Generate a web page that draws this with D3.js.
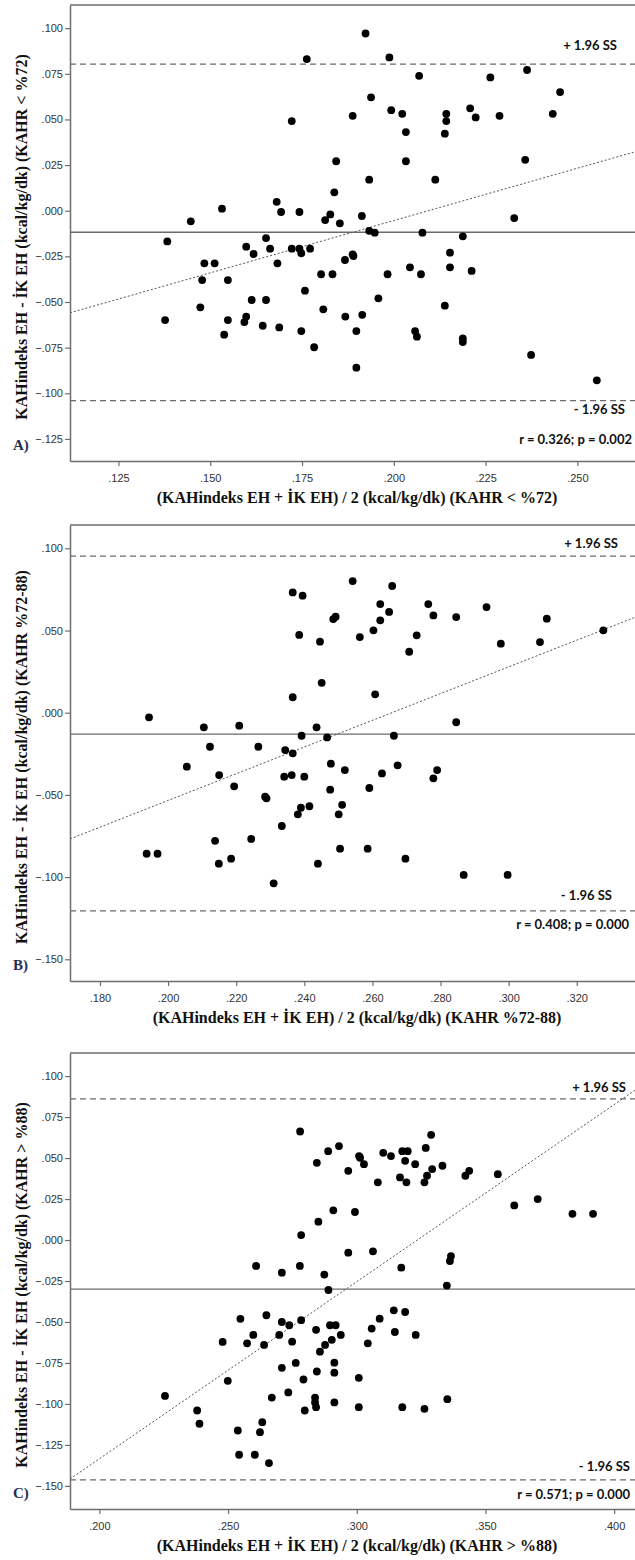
<!DOCTYPE html>
<html>
<head>
<meta charset="utf-8">
<script src="https://cdn.jsdelivr.net/npm/d3@7/dist/d3.min.js"></script>
<style>
  body { margin: 0; background: #fff; }
  .tick text { font-family: "Liberation Sans", Arial, sans-serif; font-size: 11px; fill: #333; }
  .axTitle { font-family: "Liberation Serif", "Times New Roman", serif; font-weight: bold; font-size: 16px; fill: #111; }
  .note { font-family: Lato, "Open Sans", sans-serif; font-weight: bold; font-size: 13px; fill: #111; }
  .panelLab { font-family: "Liberation Serif", serif; font-weight: bold; font-size: 15px; fill: #1f2f55; }
</style>
</head>
<body>
<div id="chart"></div>
<script>
// Panel A (KAHR < %72)
var xA = [0.1763,0.1722,0.1532,0.1447,0.1681,0.1693,0.1743,0.1383,0.1652,0.1598,0.1618,0.1663,0.1722,0.1743,0.1748,0.1772,
  0.1923,0.1988,0.2069,0.2263,0.2363,0.2453,0.1938,0.1888,0.1993,0.2023,0.2143,0.2143,0.2208,0.2223,0.2288,0.2433,
  0.2033,0.2139,0.1843,0.2033,0.2358,0.1933,0.2113,0.1838,0.1813,0.1827,0.1853,0.1913,0.1933,0.1948,0.2078,0.2188,
  0.2328,0.1888,0.1890,0.1867,0.2153,0.1484,0.1512,0.1478,0.1548,0.1473,0.1377,0.1548,0.1538,0.1598,0.1593,0.1613,
  0.1652,0.1643,0.1688,0.1683,0.1748,0.1758,0.1783,0.1802,0.1833,0.1983,0.2044,0.2074,0.2153,0.2212,0.1958,0.1808,
  0.1868,0.1914,0.1898,0.2058,0.2063,0.2139,0.2188,0.2188,0.1898,0.2374,0.2553];
var yA = [0.0831,0.0491,0.0011,-0.0058,0.0049,-0.0007,-0.0007,-0.0168,-0.0150,-0.0197,-0.0237,-0.0208,-0.0208,-0.0208,-0.0233,-0.0208,
  0.0971,0.0840,0.0739,0.0730,0.0771,0.0650,0.0621,0.0520,0.0551,0.0531,0.0531,0.0491,0.0561,0.0511,0.0520,0.0531,
  0.0431,0.0422,0.0271,0.0271,0.0279,0.0170,0.0170,0.0101,-0.0051,-0.0020,-0.0069,-0.0029,-0.0110,-0.0120,-0.0120,-0.0140,
  -0.0040,-0.0239,-0.0248,-0.0270,-0.0230,-0.0288,-0.0288,-0.0380,-0.0380,-0.0529,-0.0599,-0.0599,-0.0679,-0.0580,-0.0610,-0.0489,
  -0.0489,-0.0630,-0.0639,-0.0288,-0.0659,-0.0438,-0.0748,-0.0348,-0.0348,-0.0348,-0.0310,-0.0348,-0.0310,-0.0330,-0.0480,-0.0540,
  -0.0580,-0.0570,-0.0659,-0.0659,-0.0690,-0.0520,-0.0699,-0.0719,-0.0860,-0.0790,-0.0929];

// Panel B (KAHR %72-88)
var xB = [0.2366,0.2395,0.2385,0.2446,0.2366,0.2451,0.1944,0.2105,0.2209,0.2436,0.2123,0.2265,0.2344,0.2366,0.2392,0.2055,
  0.2150,0.2341,0.2363,0.2400,0.2542,0.2658,0.2623,0.2764,0.2649,0.2779,0.2485,0.2492,0.2623,0.2846,0.2935,0.3112,
  0.2603,0.2563,0.2730,0.2708,0.2977,0.3092,0.3278,0.2608,0.2846,0.2467,0.2663,0.2478,0.2519,0.2628,0.2674,0.2790,
  0.2779,0.2194,0.2476,0.2591,0.2285,0.2289,0.2390,0.2415,0.2381,0.2511,0.2501,0.2334,0.2138,0.2244,0.1937,0.1969,
  0.2149,0.2185,0.2310,0.2440,0.2505,0.2586,0.2697,0.2868,0.2997];
var yB = [0.0732,0.0712,0.0473,0.0432,0.0094,0.0182,-0.0028,-0.0089,-0.0079,-0.0089,-0.0207,-0.0207,-0.0227,-0.0247,-0.0140,-0.0328,
  -0.0379,-0.0389,-0.0379,-0.0389,0.0801,0.0771,0.0661,0.0661,0.0613,0.0592,0.0570,0.0584,0.0562,0.0582,0.0643,0.0572,
  0.0501,0.0460,0.0471,0.0371,0.0420,0.0430,0.0501,0.0112,-0.0058,-0.0150,-0.0140,-0.0310,-0.0349,-0.0369,-0.0320,-0.0349,
  -0.0399,-0.0448,-0.0468,-0.0458,-0.0511,-0.0521,-0.0578,-0.0569,-0.0618,-0.0560,-0.0618,-0.0689,-0.0779,-0.0768,-0.0858,-0.0858,
  -0.0918,-0.0888,-0.1038,-0.0918,-0.0827,-0.0827,-0.0888,-0.0987,-0.0987];

// Panel C (KAHR > %88)
var xC = [0.2780,0.2845,0.2784,0.2851,0.2609,0.2709,0.2779,0.3289,0.2931,0.2889,0.3268,0.3009,0.3013,0.3028,0.3103,0.3133,
  0.3177,0.3198,0.3188,0.3227,0.3293,0.3333,0.2967,0.3082,0.3168,0.3193,0.3263,0.3273,0.3422,0.3437,0.3548,0.3612,
  0.3703,0.3838,0.3918,0.2909,0.2993,0.2967,0.3063,0.2874,0.3173,0.3366,0.3362,0.3350,0.2890,0.2255,0.2380,0.2389,
  0.2479,0.2499,0.2548,0.2538,0.2543,0.2574,0.2598,0.2624,0.2633,0.2604,0.2649,0.2640,0.2670,0.2659,0.2709,0.2738,
  0.2699,0.2749,0.2784,0.2709,0.2763,0.2734,0.2793,0.2798,0.2842,0.2845,0.2838,0.2838,0.2842,0.2896,0.2918,0.2938,
  0.2903,0.2877,0.2857,0.2913,0.2913,0.3008,0.3043,0.3058,0.3089,0.3144,0.3188,0.3148,0.3229,0.2913,0.3008,0.3177,
  0.3263,0.3352];
var yC = [0.0662,0.0471,0.0030,0.0112,-0.0158,-0.0199,-0.0158,0.0642,0.0573,0.0542,0.0562,0.0512,0.0502,0.0463,0.0532,0.0512,
  0.0542,0.0542,0.0483,0.0463,0.0433,0.0453,0.0422,0.0352,0.0382,0.0352,0.0352,0.0392,0.0392,0.0422,0.0402,0.0211,
  0.0250,0.0160,0.0160,0.0181,0.0171,-0.0077,-0.0069,-0.0211,-0.0169,-0.0098,-0.0128,-0.0278,-0.0305,-0.0951,-0.1040,-0.1121,
  -0.0622,-0.0859,-0.0481,-0.1162,-0.1310,-0.0630,-0.0579,-0.1172,-0.1111,-0.1310,-0.0459,-0.0640,-0.0961,-0.1361,-0.0500,-0.0520,
  -0.0579,-0.0620,-0.0489,-0.0780,-0.0750,-0.0930,-0.0851,-0.1040,-0.0548,-0.0802,-0.0961,-0.0991,-0.1020,-0.0520,-0.0520,-0.0579,
  -0.0609,-0.0640,-0.0681,-0.0748,-0.0809,-0.0841,-0.0630,-0.0540,-0.0480,-0.0429,-0.0439,-0.0561,-0.0579,-0.0991,-0.1020,-0.1020,
  -0.1030,-0.0971];

// tick values per panel
var xTicksA = [0.125, 0.150, 0.175, 0.200, 0.225, 0.250];
var yTicksA = [-0.125, -0.100, -0.075, -0.050, -0.025, 0.000, 0.025, 0.050, 0.075, 0.100];
var xTicksB = [0.180, 0.200, 0.220, 0.240, 0.260, 0.280, 0.300, 0.320];
var yTicksB = [-0.150, -0.100, -0.050, 0.000, 0.050, 0.100];
var xTicksC = [0.200, 0.250, 0.300, 0.350, 0.400];
var yTicksC = [-0.150, -0.125, -0.100, -0.075, -0.050, -0.025, 0.000, 0.025, 0.050, 0.075, 0.100];

// mean difference, +1.96 SD, -1.96 SD
var limitsA = [-0.0118, 0.0803, -0.1040];
var limitsB = [-0.0130, 0.0953, -0.1206];
var limitsC = [-0.0299, 0.0861, -0.1463];

// regression line: [intercept, slope]
var regA = [-0.1200, 0.5731];
var regB = [-0.2159, 0.8126];
var regC = [-0.3496, 1.0806];

var rTexts = ["r = 0.326; p = 0.002", "r = 0.408; p = 0.000", "r = 0.571; p = 0.000"];
var groups = ["KAHR < %72", "KAHR %72-88", "KAHR > %88"];
var panelLabels = ["A)", "B)", "C)"];

var svg = d3.select("#chart").append("svg")
  .attr("width", 635)
  .attr("height", 1560);

var fmt = function(d) {
  var s = d3.format(".3f")(d);
  return s.replace("0.", ".");
};

// note placement per panel: [x, y] for +1.96, -1.96, r text
var notePos = [
  [[617, 50], [625, 414], [632, 444]],
  [[618, 548], [612, 900], [629, 929]],
  [[626, 1092], [630, 1471], [630, 1499]]
];

function drawPanel(i, xs, ys, xDom, yDom, top, xTicks, yTicks, limits, reg) {
  var left = 70, right = 635, height = 456;
  var bottom = top + height;

  var x = d3.scaleLinear().domain(xDom).range([left, right]);
  var y = d3.scaleLinear().domain(yDom).range([bottom, top]);

  var g = svg.append("g");

  g.append("defs").append("clipPath").attr("id", "clip" + i)
    .append("rect").attr("x", left).attr("y", top).attr("width", right - left).attr("height", height);

  // frame top
  g.append("line")
    .attr("x1", left).attr("x2", right).attr("y1", top).attr("y2", top)
    .attr("stroke", "#6e6e6e").attr("stroke-width", 1.5);

  var plot = g.append("g").attr("clip-path", "url(#clip" + i + ")");

  // mean line
  plot.append("line")
    .attr("x1", left).attr("x2", right)
    .attr("y1", y(limits[0])).attr("y2", y(limits[0]))
    .attr("stroke", "#6a6a6a").attr("stroke-width", 1.3);

  // limits of agreement
  [limits[1], limits[2]].forEach(function(v) {
    plot.append("line")
      .attr("x1", left).attr("x2", right)
      .attr("y1", y(v)).attr("y2", y(v))
      .attr("stroke", "#6a6a6a").attr("stroke-width", 1.3)
      .attr("stroke-dasharray", "6,4");
  });

  // regression line
  plot.append("line")
    .attr("x1", x(xDom[0])).attr("y1", y(reg[0] + reg[1] * xDom[0]))
    .attr("x2", x(xDom[1])).attr("y2", y(reg[0] + reg[1] * xDom[1]))
    .attr("stroke", "#555").attr("stroke-width", 1)
    .attr("stroke-dasharray", "2,2");

  // points
  plot.selectAll("circle")
    .data(xs.map(function(d, k) { return [d, ys[k]]; }))
    .enter()
    .append("circle")
    .attr("cx", d => x(d[0]))
    .attr("cy", d => y(d[1]))
    .attr("r", 3.9)
    .attr("fill", "#000");

  // axes
  var xAxis = g.append("g")
    .attr("transform", `translate(0, ${bottom})`)
    .call(d3.axisBottom(x).tickValues(xTicks).tickFormat(fmt).tickSize(5).tickSizeOuter(0).tickPadding(8));
  var yAxis = g.append("g")
    .attr("transform", `translate(${left}, 0)`)
    .call(d3.axisLeft(y).tickValues(yTicks).tickFormat(fmt).tickSize(5).tickSizeOuter(0).tickPadding(2));
  [xAxis, yAxis].forEach(function(a) {
    a.select(".domain").attr("stroke", "#6e6e6e").attr("stroke-width", 1.5);
    a.selectAll(".tick line").attr("stroke", "#6e6e6e").attr("stroke-width", 1.2);
  });

  // annotations
  var np = notePos[i];
  g.append("text").attr("class", "note")
    .attr("x", np[0][0]).attr("y", np[0][1]).attr("text-anchor", "end")
    .text("+ 1.96 SS");
  g.append("text").attr("class", "note")
    .attr("x", np[1][0]).attr("y", np[1][1]).attr("text-anchor", "end")
    .text("- 1.96 SS");
  g.append("text").attr("class", "note")
    .attr("x", np[2][0]).attr("y", np[2][1]).attr("text-anchor", "end")
    .text(rTexts[i]);

  // axis titles
  g.append("text").attr("class", "axTitle")
    .attr("x", 357).attr("y", bottom + 42).attr("text-anchor", "middle")
    .text("(KAHindeks EH + İK EH) / 2 (kcal/kg/dk) (" + groups[i] + ")");
  g.append("text").attr("class", "axTitle")
    .attr("transform", `translate(27, ${top + height / 2 + 4}) rotate(-90)`)
    .attr("text-anchor", "middle")
    .text("KAHindeks EH - İK EH (kcal/kg/dk) (" + groups[i] + ")");

  g.append("text").attr("class", "panelLab")
    .attr("x", 13).attr("y", bottom - 11)
    .text(panelLabels[i]);
}

drawPanel(0, xA, yA, [0.1118, 0.2657], [-0.1371, 0.1127], 5, xTicksA, yTicksA, limitsA, regA);
drawPanel(1, xB, yB, [0.1712, 0.3371], [-0.1632, 0.1142], 525, xTicksB, yTicksB, limitsB, regB);
drawPanel(2, xC, yC, [0.1886, 0.4081], [-0.1641, 0.1141], 1053, xTicksC, yTicksC, limitsC, regC);
</script>
</body>
</html>
